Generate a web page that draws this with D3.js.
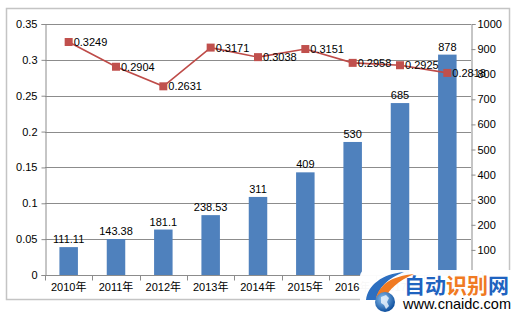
<!DOCTYPE html>
<html>
<head>
<meta charset="utf-8">
<script src="https://cdn.jsdelivr.net/npm/d3@7"></script>
<style>
  html, body { margin: 0; padding: 0; background: #fff; }
  svg { display: block; }
  text { font-family: "Liberation Sans", "Noto Sans CJK SC", sans-serif; fill: #000; }
</style>
</head>
<body>
<svg id="chart" width="524" height="324"></svg>
<script>
// Yearly data: bar series on the right axis, ratio line on the left axis
const years = ["2010年", "2011年", "2012年", "2013年", "2014年", "2015年", "2016年", "2017年", "2018年"];
const barValues = [111.11, 143.38, 181.1, 238.53, 311, 409, 530, 685, 878];
const barLabels = ["111.11", "143.38", "181.1", "238.53", "311", "409", "530", "685", "878"];
const lineValues = [0.3249, 0.2904, 0.2631, 0.3171, 0.3038, 0.3151, 0.2958, 0.2925, 0.2818];
const lineLabels = ["0.3249", "0.2904", "0.2631", "0.3171", "0.3038", "0.3151", "0.2958", "0.2925", "0.2818"];
const leftTicks = [0, 0.05, 0.1, 0.15, 0.2, 0.25, 0.3, 0.35];
const rightTicks = [0, 100, 200, 300, 400, 500, 600, 700, 800, 900, 1000];

const svg = d3.select("#chart");
const plot = { left: 45, right: 471, top: 24, bottom: 275 };

// Outer chart frame
svg.append("rect")
  .attr("x", 6.5).attr("y", 8.5).attr("width", 503).attr("height", 291)
  .attr("fill", "#fff").attr("stroke", "#c4c4c4").attr("stroke-width", 1.5);

const x = d3.scaleBand().domain(years).range([plot.left, plot.right]).paddingInner(0).paddingOuter(0);
const yL = d3.scaleLinear().domain([0, 0.35]).range([plot.bottom, plot.top]);
const yR = d3.scaleLinear().domain([0, 1000]).range([plot.bottom, plot.top]);

// Horizontal gridlines
svg.append("g").selectAll("line").data(leftTicks.filter(d => d > 0)).join("line")
  .attr("x1", plot.left).attr("x2", plot.right)
  .attr("y1", d => Math.round(yL(d)) + 0.5).attr("y2", d => Math.round(yL(d)) + 0.5)
  .attr("stroke", "#8c8c8c").attr("stroke-width", 1);

// Left axis
const axL = svg.append("g").attr("transform", `translate(${plot.left + 0.5},0)`)
  .call(d3.axisLeft(yL).tickValues(leftTicks).tickSize(4).tickPadding(4).tickFormat(d => d === 0 ? "0" : String(d)));
axL.select(".domain").attr("stroke", "#8c8c8c");
axL.selectAll(".tick line").attr("stroke", "#8c8c8c");
axL.selectAll("text").attr("font-size", 11).attr("font-family", "Liberation Sans, sans-serif").attr("fill", "#000");

// Right axis
const axR = svg.append("g").attr("transform", `translate(${plot.right + 0.5},0)`)
  .call(d3.axisRight(yR).tickValues(rightTicks).tickSize(4).tickPadding(2).tickFormat(d => d === 0 ? "0" : String(d)));
axR.select(".domain").attr("stroke", "#8c8c8c");
axR.selectAll(".tick line").attr("stroke", "#8c8c8c");
axR.selectAll("text").attr("font-size", 11).attr("font-family", "Liberation Sans, sans-serif").attr("fill", "#000");

// Bottom category axis with ticks between categories
const axB = svg.append("g").attr("transform", `translate(0,${plot.bottom + 0.5})`);
axB.append("line").attr("x1", plot.left).attr("x2", plot.right).attr("stroke", "#8c8c8c");
const bounds = years.map(d => x(d)).concat([plot.right]);
axB.selectAll("line.tk").data(bounds).join("line").attr("class", "tk")
  .attr("x1", d => Math.round(d) + 0.5).attr("x2", d => Math.round(d) + 0.5)
  .attr("y1", 0).attr("y2", 5).attr("stroke", "#8c8c8c");
axB.selectAll("text").data(years).join("text")
  .attr("x", d => x(d) + x.bandwidth() / 2).attr("y", 15)
  .attr("text-anchor", "middle").attr("font-size", 11).text(d => d);

// Bars
const barW = 18.5;
svg.append("g").selectAll("rect").data(barValues).join("rect")
  .attr("x", (d, i) => x(years[i]) + x.bandwidth() / 2 - barW / 2)
  .attr("y", d => yR(d)).attr("width", barW).attr("height", d => yR(0) - yR(d))
  .attr("fill", "#4f81bd");

svg.append("g").selectAll("text").data(barValues).join("text")
  .attr("x", (d, i) => x(years[i]) + x.bandwidth() / 2)
  .attr("y", d => yR(d) - 4)
  .attr("text-anchor", "middle").attr("font-size", 11)
  .text((d, i) => barLabels[i]);

// Ratio line with square markers
const cx = i => x(years[i]) + x.bandwidth() / 2;
svg.append("path").datum(lineValues)
  .attr("d", d3.line().x((d, i) => cx(i)).y(d => yL(d)))
  .attr("fill", "none").attr("stroke", "#be4b48").attr("stroke-width", 1.6);

svg.append("g").selectAll("rect").data(lineValues).join("rect")
  .attr("x", (d, i) => cx(i) - 4).attr("y", d => yL(d) - 4)
  .attr("width", 8).attr("height", 8).attr("fill", "#c0504d");

svg.append("g").selectAll("text").data(lineValues).join("text")
  .attr("x", (d, i) => cx(i) + 5).attr("y", d => yL(d) + 4)
  .attr("font-size", 11)
  .text((d, i) => lineLabels[i]);

// Site badge in the lower right corner
const badge = svg.append("g");
badge.append("rect").attr("x", 360).attr("y", 270).attr("width", 164).attr("height", 54)
  .attr("rx", 6).attr("fill", "#fff").attr("opacity", 0.97);
badge.append("path")
  .attr("d", "M366,300 C368,285 382,274 404,272 C388,278 378,288 376,300 Z")
  .attr("fill", "#2d6fc0");
badge.append("path")
  .attr("d", "M376,298 C380,284 392,276 414,274 C398,281 388,290 386,298 Z")
  .attr("fill", "#f07a22");
const globe = svg.append("defs").append("radialGradient").attr("id", "globe")
  .attr("cx", "40%").attr("cy", "35%").attr("r", "65%");
globe.append("stop").attr("offset", "0%").attr("stop-color", "#8fc4f2");
globe.append("stop").attr("offset", "100%").attr("stop-color", "#0d4f9e");
badge.append("circle").attr("cx", 385).attr("cy", 302).attr("r", 10).attr("fill", "url(#globe)");
badge.append("path").attr("d", "M381,297 l5,-2 l3,3 l-2,4 l2,4 l-3,3 l-2,-4 l-3,-2 z")
  .attr("fill", "#e8f2fb").attr("opacity", 0.85);
const title = badge.append("text").attr("x", 404).attr("y", 293)
  .attr("font-size", 21).attr("font-weight", "bold")
  .attr("font-family", "Noto Sans CJK SC, sans-serif");
title.append("tspan").attr("fill", "#1f63c0").text("自动");
title.append("tspan").attr("fill", "#f07a22").text("识别");
title.append("tspan").attr("fill", "#1f63c0").text("网");
badge.append("text").attr("x", 403).attr("y", 309)
  .attr("font-size", 14.5).attr("fill", "#1f63c0")
  .attr("font-family", "Liberation Sans, sans-serif").text("www.cnaidc.com");
</script>
</body>
</html>
